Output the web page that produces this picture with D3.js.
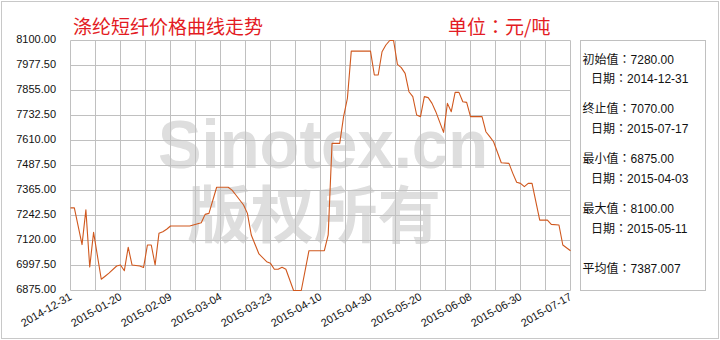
<!DOCTYPE html>
<html>
<head>
<meta charset="utf-8">
<script src="https://cdn.jsdelivr.net/npm/d3@7/dist/d3.min.js"></script>
<style>
  html, body { margin: 0; padding: 0; background: #fff; }
  #chart { width: 720px; height: 340px; }
</style>
</head>
<body>
<div id="chart"></div>
<script>
// trading-day index (category axis) and price in 元/吨
const dayIdx = [0, 1, 3, 4, 5, 6, 8, 9, 10, 12, 13, 14, 15, 16, 18, 19, 20, 21, 22, 23, 24, 25, 26, 31,
  34, 35, 36, 38, 41, 42, 43, 45, 46, 47, 49, 51, 52, 53, 54, 55, 56, 58, 60, 62, 65, 66, 67, 68, 70,
  71, 72, 73, 78, 79, 80, 81, 82, 83, 84, 85, 86, 87, 88, 89, 90, 91, 92, 93, 94, 95, 96, 97, 98, 99,
  100, 101, 102, 103, 104, 107, 108, 109, 110, 112, 114, 115, 116, 117, 118, 119, 120, 122, 124, 125,
  127, 128, 130];
const price = [7280, 7280, 7100, 7270, 6990, 7160, 6930, 6945, 6960, 6995, 7000, 6972, 7087, 7000, 6995,
  6988, 7098, 7098, 7000, 7155, 7163, 7175, 7191, 7191,
  7207, 7248, 7253, 7381, 7381, 7367, 7343, 7294, 7253, 7147, 7054, 7016, 7008, 6979, 6979, 6989, 6979,
  6875, 6875, 7070, 7070, 7070, 7147, 7596, 7596,
  7727, 7817, 8048, 8048, 7931, 7931, 8045, 8078, 8100, 8100, 7983, 7967, 7939, 7849, 7825, 7735, 7727,
  7825, 7820, 7792, 7750, 7700, 7650, 7792, 7751,
  7846, 7846, 7800, 7797, 7727, 7727, 7653, 7629, 7604, 7501, 7498, 7449, 7405, 7400, 7384, 7400, 7400,
  7220, 7220, 7199, 7196, 7098, 7070];

const xLabels = ['2014-12-31', '2015-01-20', '2015-02-09', '2015-03-04', '2015-03-23', '2015-04-10',
  '2015-04-30', '2015-05-20', '2015-06-08', '2015-06-30', '2015-07-17'];
const xLabelIdx = [0, 13, 26, 39, 52, 65, 78, 91, 104, 117, 130];
const yTicks = [6875, 6997.5, 7120, 7242.5, 7365, 7487.5, 7610, 7732.5, 7855, 7977.5, 8100];

const statNames = ['初始值', '日期', '终止值', '日期', '最小值', '日期', '最大值', '日期', '平均值'];
const statValues = ['7280.00', '2014-12-31', '7070.00', '2015-07-17', '6875.00', '2015-04-03',
  '8100.00', '2015-05-11', '7387.007'];

const numFont = '"Liberation Sans", Arial, sans-serif';
const cjkFont = '"Noto Sans CJK SC", "Liberation Sans", sans-serif';

const plot = { left: 70.5, top: 40.5, width: 500, height: 250 };

const svg = d3.select('#chart')
  .append('svg')
  .attr('width', 720)
  .attr('height', 340);

svg.append('rect')
  .attr('x', 1.5).attr('y', 1.5)
  .attr('width', 717).attr('height', 337)
  .attr('fill', '#fff')
  .attr('stroke', '#c8c8c8');

const xScale = d3.scaleLinear()
  .domain([0, 130])
  .range([plot.left, plot.left + plot.width]);

const yScale = d3.scaleLinear()
  .domain([6875, 8100])
  .range([plot.top + plot.height, plot.top]);

// watermark sits under the grid
const wm = svg.append('g').attr('fill', '#dedede');
wm.append('text')
  .attr('x', 158).attr('y', 168)
  .attr('font-family', numFont)
  .attr('font-weight', 'bold')
  .attr('font-size', 68)
  .attr('textLength', 330)
  .attr('lengthAdjust', 'spacingAndGlyphs')
  .text('Sinotex.cn');
wm.append('text')
  .attr('x', 187).attr('y', 238)
  .attr('font-family', cjkFont)
  .attr('font-weight', 'bold')
  .attr('font-size', 62)
  .attr('textLength', 254)
  .attr('lengthAdjust', 'spacingAndGlyphs')
  .text('版权所有');

// grid
const grid = svg.append('g').attr('stroke', '#c0c0c0').attr('stroke-width', 1);
grid.selectAll('.vgrid')
  .data(d3.range(0, 130.01, 6.5))
  .enter()
  .append('line')
  .attr('class', 'vgrid')
  .attr('x1', d => Math.round(xScale(d) - 0.5) + 0.5)
  .attr('x2', d => Math.round(xScale(d) - 0.5) + 0.5)
  .attr('y1', plot.top)
  .attr('y2', plot.top + plot.height);
grid.selectAll('.hgrid')
  .data(yTicks)
  .enter()
  .append('line')
  .attr('class', 'hgrid')
  .attr('x1', plot.left)
  .attr('x2', plot.left + plot.width)
  .attr('y1', d => Math.round(yScale(d) - 0.5) + 0.5)
  .attr('y2', d => Math.round(yScale(d) - 0.5) + 0.5);

// y axis labels
const yAxis = svg.append('g')
  .attr('transform', 'translate(56,0)')
  .call(d3.axisLeft(yScale).tickValues(yTicks).tickSize(0).tickPadding(0).tickFormat(d => d.toFixed(2)));
yAxis.select('.domain').remove();
yAxis.selectAll('text')
  .attr('dy', '2.2px')
  .attr('font-family', numFont)
  .attr('font-size', 11)
  .attr('fill', '#111');

// x axis labels, rotated
svg.append('g')
  .selectAll('.xlabel')
  .data(xLabels)
  .enter()
  .append('text')
  .attr('class', 'xlabel')
  .attr('transform', (d, i) => `translate(${xScale(xLabelIdx[i]) + 2},299) rotate(-30)`)
  .attr('text-anchor', 'end')
  .attr('font-family', numFont)
  .attr('font-size', 11)
  .attr('fill', '#111')
  .text(d => d);

// price line
const line = d3.line()
  .x((d, i) => xScale(dayIdx[i]))
  .y(d => yScale(d));

svg.append('path')
  .datum(price)
  .attr('d', line)
  .attr('fill', 'none')
  .attr('stroke', '#d0581e')
  .attr('stroke-width', 1.1)
  .attr('stroke-linejoin', 'round');

// titles
svg.append('text')
  .attr('x', 73).attr('y', 34)
  .attr('font-family', cjkFont)
  .attr('font-size', 19)
  .attr('fill', '#e31b23')
  .text('涤纶短纤价格曲线走势');

const unit = svg.append('text')
  .attr('x', 448).attr('y', 34)
  .attr('font-family', cjkFont)
  .attr('font-size', 19)
  .attr('fill', '#e31b23');
unit.append('tspan').text('单位');
unit.append('tspan').attr('font-family', '"Noto Sans CJK TC", sans-serif').text('：');
unit.append('tspan').text('元/吨');

// stats box
svg.append('rect')
  .attr('x', 580.5).attr('y', 40.5)
  .attr('width', 125).attr('height', 250)
  .attr('fill', 'none')
  .attr('stroke', '#c0c0c0');

const statY = [64, 83, 113, 133, 163, 183, 213, 233, 273];
const stats = svg.append('g')
  .selectAll('.stat')
  .data(statNames)
  .enter()
  .append('text')
  .attr('class', 'stat')
  .attr('x', d => d === '日期' ? 591 : 582.5)
  .attr('y', (d, i) => statY[i])
  .attr('font-family', cjkFont)
  .attr('font-size', 12)
  .attr('fill', '#111');
stats.append('tspan').text(d => d);
stats.append('tspan').attr('font-family', '"Noto Sans CJK TC", sans-serif').text('：');
stats.append('tspan').attr('font-family', numFont).text((d, i) => statValues[i]);
</script>
</body>
</html>
